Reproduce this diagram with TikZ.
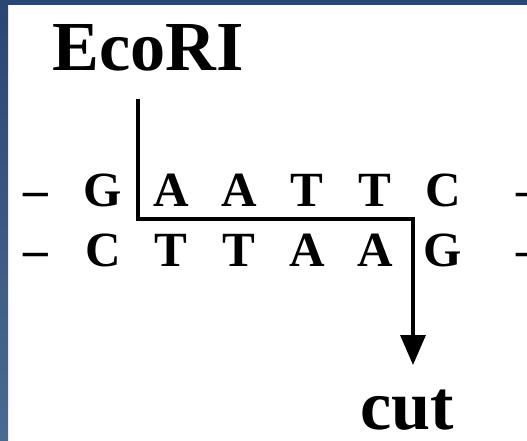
\documentclass[tikz,border=0pt]{standalone}
\usepackage{fontspec}
\setmainfont{Liberation Serif}
\usetikzlibrary{arrows.meta}
\definecolor{frametop}{HTML}{2A4674}
\definecolor{framelow}{HTML}{4A6A92}

\begin{document}
\begin{tikzpicture}[
  x=0.02cm, y=-0.02cm,
  >={Triangle[length=6mm, width=5mm]},
  base/.style={font=\fontsize{28}{30}\selectfont\bfseries, anchor=base, inner sep=0pt},
  label/.style={font=\fontsize{40}{44}\selectfont\bfseries, anchor=base, inner sep=0pt},
  arr/.style={->, line width=1.9pt, black},
]

% Background and blue frame
\useasboundingbox (0,0) rectangle (527,440);
\fill[white] (0,0) rectangle (527,440);
\fill[frametop] (0,0) rectangle (527,5);
\shade[top color=frametop, bottom color=framelow] (0,0) rectangle (8,440);

% Enzyme name
\node[label] (ecori) at (148,70) {EcoRI};

% Top strand
\node[base] (tl) at (36,206) {–};
\foreach \b [count=\i] in {G,A,A,T,T,C} {
  \node[base] (top\i) at ({103+68*(\i-1)},206) {\b};
}
\node[base] (tr) at (529,206) {–};

% Bottom strand
\node[base] (bl) at (36,266) {–};
\foreach \b [count=\i] in {C,T,T,A,A,G} {
  \node[base] (bot\i) at ({103+68*(\i-1)},266) {\b};
}
\node[base] (br) at (529,266) {–};

% Cut site
\node[label] (cut) at (407,429) {cut};

\coordinate (enz) at (138,99);
\coordinate (nick) at (413,219);
\coordinate (tip) at (413,365);
\draw[arr] (enz) |- (nick) -- (tip);

\end{tikzpicture}
\end{document}
